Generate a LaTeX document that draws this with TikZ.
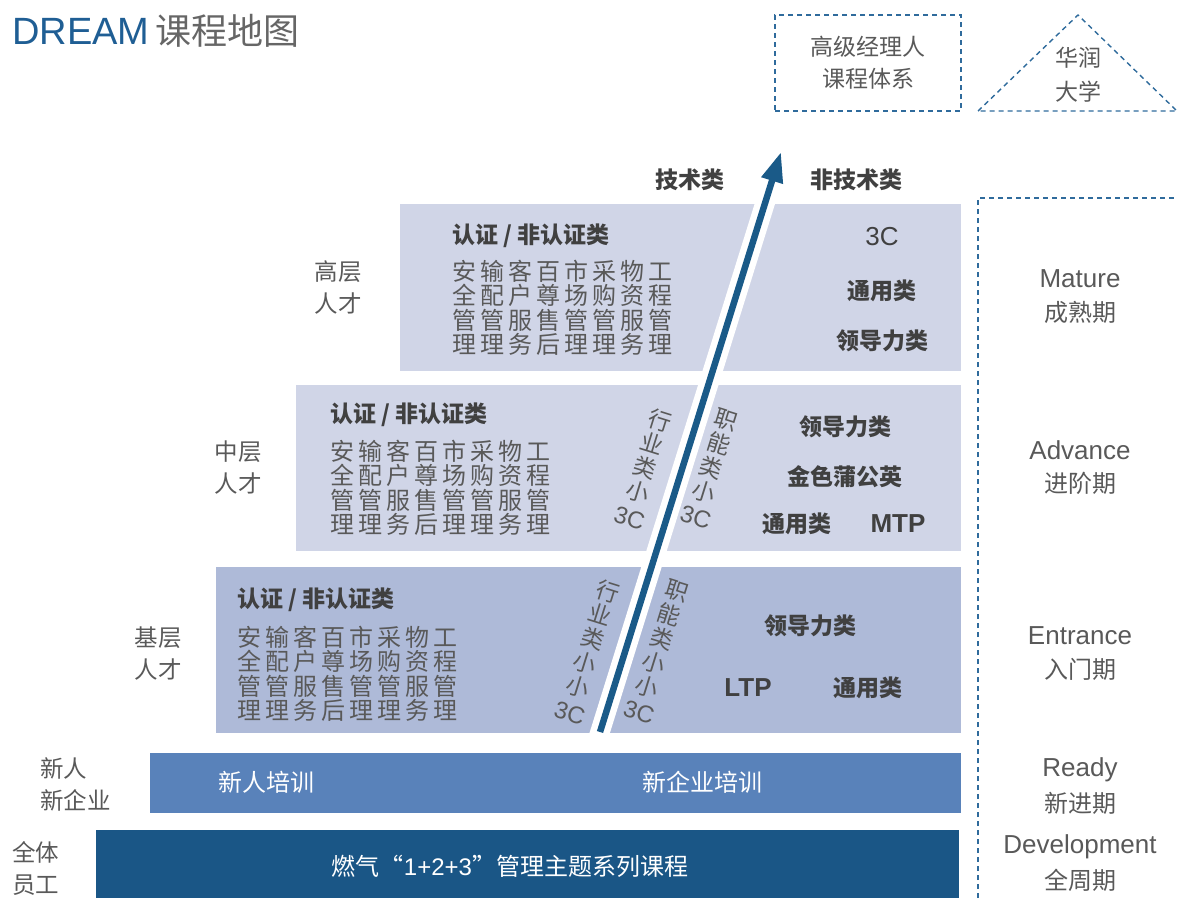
\documentclass[tikz,border=0pt]{standalone}
\usepackage{fontspec}
\setmainfont{Noto Sans CJK SC}
\newfontfamily\lat{Liberation Sans}
\usetikzlibrary{arrows.meta}
\definecolor{txtgray}{HTML}{595959}
\definecolor{bldgray}{HTML}{404040}
\definecolor{titlegray}{HTML}{666666}
\definecolor{titleblue}{HTML}{1F5E94}
\definecolor{dashblue}{HTML}{2F6B9C}
\definecolor{tierlight}{HTML}{D0D5E7}
\definecolor{tierdark}{HTML}{AEBAD8}
\definecolor{barmid}{HTML}{5982BA}
\definecolor{bardark}{HTML}{1A5686}
\definecolor{arrowblue}{HTML}{1A5A88}
\def\gridrow#1{\gridrowi#1\relax}
\def\gridrowi#1{\ifx#1\relax\else\makebox[28pt][l]{#1}\expandafter\gridrowi\fi}
\newcommand\threec{{\lat\fontsize{24}{25}\selectfont 3C}}
\tikzset{
  lbl/.style={inner sep=0, text=txtgray, align=center, font=\fontsize{23.5}{32}\selectfont},
  lbll/.style={inner sep=0, text=txtgray, align=left, anchor=west, font=\fontsize{23.5}{32}\selectfont},
  blbl/.style={inner sep=0, text=bldgray, font=\bfseries\fontsize{23}{26}\selectfont},
  blat/.style={inner sep=0, text=bldgray, font=\lat\bfseries\fontsize{26}{30}\selectfont},
  gridtxt/.style={anchor=west, inner sep=0, text=txtgray, font=\fontsize{24}{25}\selectfont},
  engl/.style={inner sep=0, text=txtgray, font=\lat\fontsize{26}{30}\selectfont},
  chl/.style={inner sep=0, text=txtgray, font=\fontsize{24}{28}\selectfont},
  rotcol/.style={inner sep=0, text=txtgray, align=center, rotate=-17.3, font=\fontsize{23}{25}\selectfont},
  bartxt/.style={inner sep=0, text=white, font=\fontsize{24}{28}\selectfont},
  dashln/.style={draw=dashblue, line width=1.4pt, dash pattern=on 5pt off 4pt},
}
\newcommand\tiergrid[3]{%
  \node[gridtxt] (#1a) at (#2,#3) {\gridrow{安输客百市采物工}};
  \node[gridtxt] (#1b) at (#2,#3+24.6) {\gridrow{全配户尊场购资程}};
  \node[gridtxt] (#1c) at (#2,#3+49.2) {\gridrow{管管服售管管服管}};
  \node[gridtxt] (#1d) at (#2,#3+73.8) {\gridrow{理理务后理理务理}};
}
\begin{document}
\begin{tikzpicture}[x=1pt,y=-1pt]
\useasboundingbox (0,0) rectangle (1178,898);
% title
\node[anchor=west, inner sep=0] (title) at (12,31)
  {\textcolor{titleblue}{\lat\fontsize{38}{44}\selectfont DREAM}\hspace{6pt}\textcolor{titlegray}{\fontsize{36}{44}\selectfont 课程地图}};
% top right boxes
\node[dashln, minimum width=186pt, minimum height=96pt, inner sep=0] (exec) at (868,63) {};
\node[lbl, font=\fontsize{23}{32}\selectfont] (exectxt) at (868,63) {高级经理人\\课程体系};
\draw[dashln] (978,111) -- (1078,15) -- (1177,111) -- cycle;
\node[lbl, font=\fontsize{23}{34}\selectfont] (hr) at (1078,75) {华润\\大学};
% right dashed frame
\draw[dashln] (978,898) -- (978,198) -- (1178,198);
% tiers
\fill[tierlight] (400,204) rectangle (961,371);
\fill[tierlight] (296,385) rectangle (961,551);
\fill[tierdark] (216,567) rectangle (961,733);
\fill[barmid] (150,753) rectangle (961,813);
\fill[bardark] (96,830) rectangle (959,898);
% arrow with white gap
\coordinate (gapS) at (597.5,740);
\coordinate (arrS) at (600,732);
\coordinate (arrE) at (781,152);
\draw[white, line width=19.5pt] (gapS) -- (arrE);
\draw[arrowblue, line width=6.5pt, -{Triangle[length=30pt,width=21pt]}] (arrS) -- (arrE);
% headers
\node[blbl] (tech) at (690,180) {技术类};
\node[blbl] (ntech) at (856,180) {非技术类};
% top tier
\node[blbl, anchor=west] (t1h) at (452,236) {认证 / 非认证类};
\tiergrid{t1g}{452}{271}
\node[inner sep=0, text=bldgray, font=\lat\fontsize{26}{30}\selectfont] (t13c) at (882,237) {3C};
\node[blbl] (t1gen) at (882,291) {通用类};
\node[blbl] (t1lead) at (882,341) {领导力类};
% middle tier
\node[blbl, anchor=west] (t2h) at (330,415) {认证 / 非认证类};
\tiergrid{t2g}{330}{451}
\node[rotcol] (t2r1) at (645,468) {行\\业\\类\\小\\[2pt]\threec};
\node[rotcol] (t2r2) at (711,468) {职\\能\\类\\小\\[2pt]\threec};
\node[blbl] (t2lead) at (845,427) {领导力类};
\node[blbl] (t2gold) at (845,477) {金色蒲公英};
\node[blbl] (t2gen) at (797,524) {通用类};
\node[blat] (t2mtp) at (898,524) {MTP};
% bottom tier
\node[blbl, anchor=west] (t3h) at (237,600) {认证 / 非认证类};
\tiergrid{t3g}{237}{637}
\node[rotcol] (t3r1) at (589,651) {行\\业\\类\\小\\小\\[2pt]\threec};
\node[rotcol] (t3r2) at (658,651) {职\\能\\类\\小\\小\\[2pt]\threec};
\node[blbl] (t3lead) at (810,626) {领导力类};
\node[blat] (t3ltp) at (748,688) {LTP};
\node[blbl] (t3gen) at (868,688) {通用类};
% bars
\node[bartxt] (newp) at (266,782) {新人培训};
\node[bartxt] (newc) at (702,782) {新企业培训};
\node[bartxt] (gas) at (510,866) {燃气“{\lat 1+2+3}”管理主题系列课程};
% left labels
\node[lbl] (lv1) at (338,287) {高层\\人才};
\node[lbl] (lv2) at (238,468) {中层\\人才};
\node[lbl] (lv3) at (158,654) {基层\\人才};
\node[lbll] (lv4) at (40,784) {新人\\新企业};
\node[lbll] (lv5) at (12,868) {全体\\员工};
% right labels
\node[engl] (r1e) at (1080,279) {Mature};
\node[chl] (r1c) at (1080,312) {成熟期};
\node[engl] (r2e) at (1080,450) {Advance};
\node[chl] (r2c) at (1080,483) {进阶期};
\node[engl] (r3e) at (1080,636) {Entrance};
\node[chl] (r3c) at (1080,669) {入门期};
\node[engl] (r4e) at (1080,770) {Ready};
\node[chl] (r4c) at (1080,803) {新进期};
\node[engl] (r5e) at (1080,847) {Development};
\node[chl] (r5c) at (1080,880) {全周期};
\end{tikzpicture}
\end{document}
